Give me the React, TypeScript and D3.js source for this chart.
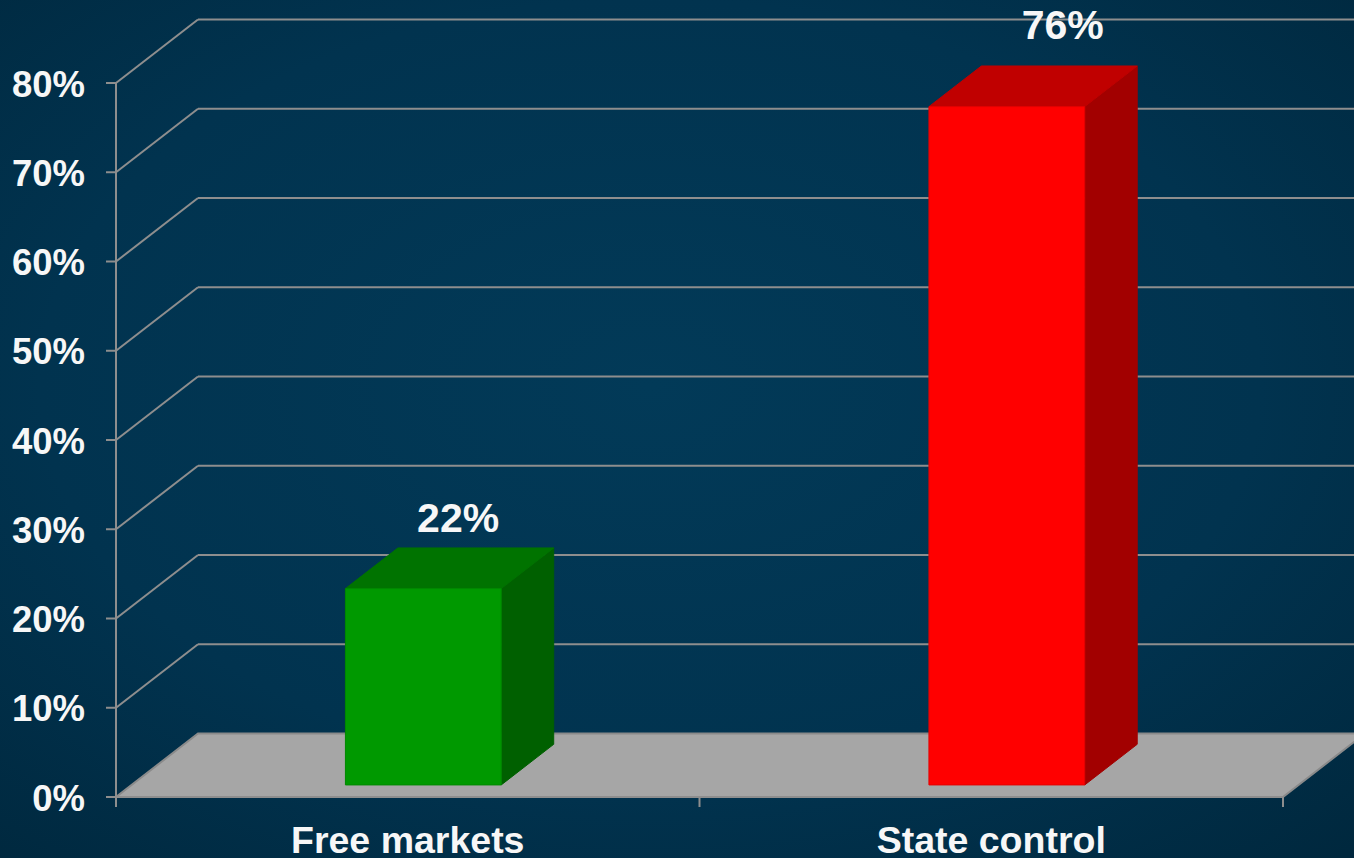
import React from "react";
import * as d3 from "d3";

const categories = ["Free markets", "State control"];
const values = [22, 76];
const valueLabels = ["22%", "76%"];
const yTicks = [0, 10, 20, 30, 40, 50, 60, 70, 80];
const yTickLabels = ["0%", "10%", "20%", "30%", "40%", "50%", "60%", "70%", "80%"];
const frontColors = ["#009900", "#ff0000"];
const topColors = ["#007300", "#c00000"];
const sideColors = ["#006000", "#a20000"];

const W = 1354;
const H = 858;
const DX = 82;
const DY = 63.5;
const Z0 = 0.19;
const Z1 = 0.83;

export default function App() {
  const y = d3.scaleLinear().domain([0, 80]).range([797, 83]);
  const x = d3.scaleBand<string>().domain(categories).range([116, 1283]).padding(0);
  const bw = x.bandwidth() * 0.267;
  const P = (px: number, v: number, z: number): [number, number] => [px + z * DX, y(v) - z * DY];
  const poly = (pts: [number, number][]) => pts.map((p) => p.join(",")).join(" ");
  const font = "'Liberation Sans', Arial, Helvetica, sans-serif";
  const grid = "#8e8e8e";
  const x0 = x.range()[0];
  const x1 = x.range()[1];

  return (
    <svg width={W} height={H} style={{ position: "absolute", left: 0, top: 0 }} xmlns="http://www.w3.org/2000/svg">
      <defs>
        <radialGradient id="bg" cx="48%" cy="45%" r="75%">
          <stop offset="0%" stopColor="#023a58" />
          <stop offset="60%" stopColor="#01334f" />
          <stop offset="100%" stopColor="#00283e" />
        </radialGradient>
      </defs>
      <rect x={0} y={0} width={W} height={H} fill="url(#bg)" />

      {/* back wall gridlines */}
      {yTicks.filter((t) => t > 0).map((t) => {
        const a = P(x0, t, 1);
        const b = P(x1, t, 1);
        const f = P(x0, t, 0);
        return (
          <g key={t}>
            <line x1={a[0]} y1={a[1]} x2={b[0]} y2={b[1]} stroke={grid} strokeWidth={2} />
            <line x1={f[0]} y1={f[1]} x2={a[0]} y2={a[1]} stroke={grid} strokeWidth={2} />
          </g>
        );
      })}

      {/* floor */}
      <polygon
        points={poly([P(x0, 0, 0), P(x1, 0, 0), P(x1, 0, 1), P(x0, 0, 1)])}
        fill="#a6a6a6"
        stroke="#8a8a8a"
        strokeWidth={2}
      />

      {/* bars */}
      {categories.map((c, i) => {
        const v = values[i];
        const cx = (x(c) as number) + x.bandwidth() / 2;
        const l = cx - bw / 2;
        const r = cx + bw / 2;
        const front = [P(l, 0, Z0), P(r, 0, Z0), P(r, v, Z0), P(l, v, Z0)] as [number, number][];
        const top = [P(l, v, Z0), P(r, v, Z0), P(r, v, Z1), P(l, v, Z1)] as [number, number][];
        const side = [P(r, 0, Z0), P(r, 0, Z1), P(r, v, Z1), P(r, v, Z0)] as [number, number][];
        const lp = P(cx + v * 0.39, v * 1.024, 1);
        const zmid = (Z0 + Z1) / 2;
        return (
          <g key={c}>
            <polygon points={poly(side)} fill={sideColors[i]} stroke={sideColors[i]} strokeWidth={1} />
            <polygon points={poly(top)} fill={topColors[i]} stroke={topColors[i]} strokeWidth={1} />
            <polygon points={poly(front)} fill={frontColors[i]} stroke={d3.color(frontColors[i])!.darker(0.3).toString()} strokeWidth={1} />
            <text
              x={cx + zmid * DX + v * 0.39}
              y={lp[1]}
              textAnchor="middle"
              fill="#f7f7f7"
              fontFamily={font}
              fontWeight="bold"
              fontSize={41}
            >
              {valueLabels[i]}
            </text>
          </g>
        );
      })}

      {/* y axis */}
      <line x1={x0} y1={y(80)} x2={x0} y2={y(0) + 10} stroke={grid} strokeWidth={2} />
      {yTicks.map((t, i) => (
        <g key={t}>
          <line x1={x0 - 10} y1={y(t)} x2={x0} y2={y(t)} stroke={grid} strokeWidth={2} />
          <text
            x={85}
            y={y(t)}
            dy="0.37em"
            textAnchor="end"
            fill="#f7f7f7"
            fontFamily={font}
            fontWeight="bold"
            fontSize={36.5}
          >
            {yTickLabels[i]}
          </text>
        </g>
      ))}

      {/* x axis */}
      <line x1={x0} y1={y(0)} x2={x1} y2={y(0)} stroke={grid} strokeWidth={2} />
      {[x0, x0 + x.bandwidth(), x1].map((t, i) => (
        <line key={i} x1={t} y1={y(0)} x2={t} y2={y(0) + 10} stroke={grid} strokeWidth={2} />
      ))}
      {categories.map((c) => (
        <text
          key={c}
          x={(x(c) as number) + x.bandwidth() / 2}
          y={853}
          textAnchor="middle"
          fill="#f7f7f7"
          fontFamily={font}
          fontWeight="bold"
          fontSize={37.5}
        >
          {c}
        </text>
      ))}
    </svg>
  );
}
